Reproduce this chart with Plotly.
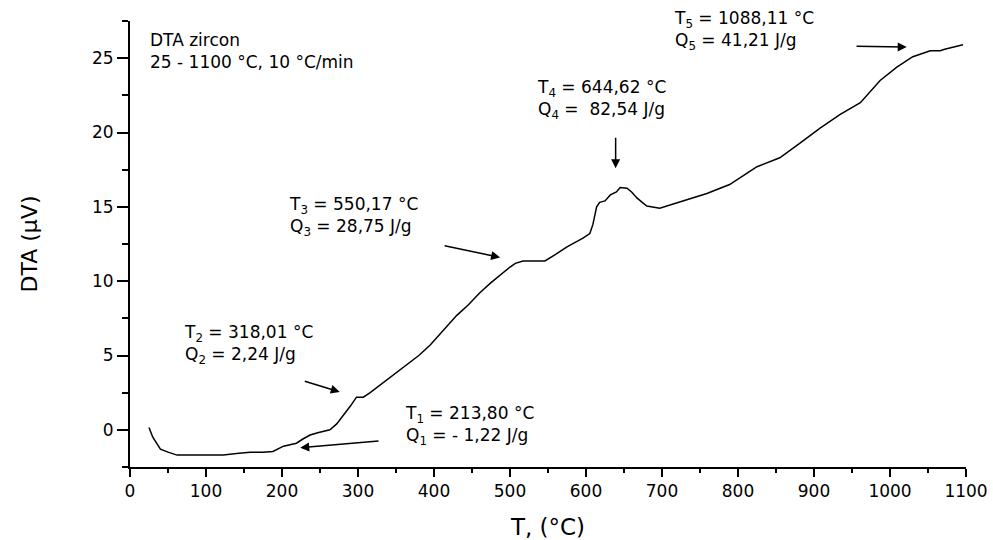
import plotly.graph_objects as go

# DTA curve of zircon
temperature = [25, 30, 35, 40, 50, 62, 80, 101, 123, 140, 158, 175, 188, 202, 210, 219, 228,
               237, 247, 257, 263, 272, 280, 290, 298, 307, 316, 333, 350, 364, 380, 395, 412,
               430, 445, 460, 475, 491, 500, 507, 517, 526, 546, 560, 575, 596, 605, 609, 614,
               618, 625, 632, 640, 645, 654, 660, 667, 674, 680, 697, 710, 728, 759, 789, 803,
               813, 825, 855, 882, 908, 934, 961, 987, 1009, 1030, 1053, 1060, 1066, 1072, 1079,
               1088, 1096]
dta = [0.15, -0.5, -0.9, -1.3, -1.5, -1.7, -1.7, -1.7, -1.7, -1.6, -1.5, -1.5, -1.45, -1.1,
       -1.0, -0.9, -0.6, -0.35, -0.2, -0.05, 0.0, 0.4, 0.9, 1.6, 2.2, 2.2, 2.5, 3.15, 3.8, 4.35,
       5.0, 5.7, 6.7, 7.7, 8.4, 9.2, 9.9, 10.6, 10.95, 11.2, 11.36, 11.35, 11.36, 11.8, 12.3,
       12.9, 13.2, 13.8, 15.0, 15.3, 15.4, 15.8, 16.0, 16.3, 16.25, 16.0, 15.6, 15.3, 15.05,
       14.9, 15.1, 15.4, 15.9, 16.5, 17.0, 17.3, 17.7, 18.3, 19.3, 20.3, 21.2, 22.0, 23.5, 24.4,
       25.1, 25.5, 25.5, 25.5, 25.6, 25.7, 25.8, 25.9]

# Peak labels
peak_labels = [
    "T<sub>1</sub> = 213,80 °C<br>Q<sub>1</sub> = - 1,22 J/g",
    "T<sub>2</sub> = 318,01 °C<br>Q<sub>2</sub> = 2,24 J/g",
    "T<sub>3</sub> = 550,17 °C<br>Q<sub>3</sub> = 28,75 J/g",
    "T<sub>4</sub> = 644,62 °C<br>Q<sub>4</sub> =  82,54 J/g",
    "T<sub>5</sub> = 1088,11 °C<br>Q<sub>5</sub> = 41,21 J/g",
]
label_x = [359, 68, 207, 533, 713]
label_y = [0.27, 5.75, 14.38, 22.2, 26.85]
# arrows: tail (ax, ay) -> head (x, y)
arrow_tail_x = [329, 228, 412, 639, 954]
arrow_tail_y = [-0.74, 3.3, 12.4, 19.75, 25.8]
arrow_head_x = [224, 276, 487, 639, 1022]
arrow_head_y = [-1.2, 2.55, 11.6, 17.6, 25.75]

info_text = "DTA zircon<br>25 - 1100 °C, 10 °C/min"

x_ticks = list(range(0, 1101, 100))
y_ticks = [0, 5, 10, 15, 20, 25]

FONT = "DejaVu Sans"

fig = go.Figure()
fig.add_trace(go.Scatter(x=temperature, y=dta, mode="lines",
                         line=dict(color="black", width=1.5), showlegend=False))

annotations = []
for t, lx, ly in zip(peak_labels, label_x, label_y):
    annotations.append(dict(x=lx, y=ly, xref="x", yref="y", text=t, showarrow=False,
                            xanchor="left", yanchor="middle", align="left",
                            font=dict(family=FONT, size=17, color="black")))
for tx, ty, hx, hy in zip(arrow_tail_x, arrow_tail_y, arrow_head_x, arrow_head_y):
    annotations.append(dict(x=hx, y=hy, ax=tx, ay=ty, xref="x", yref="y", axref="x", ayref="y",
                            text="", showarrow=True, arrowhead=2, arrowsize=1.2,
                            arrowwidth=1.5, arrowcolor="black"))
annotations.append(dict(x=24, y=25.47, xref="x", yref="y", text=info_text, showarrow=False,
                        xanchor="left", yanchor="middle", align="left",
                        font=dict(family=FONT, size=17, color="black")))

fig.update_layout(
    width=993, height=540,
    margin=dict(l=130, r=27, t=21, b=73),
    paper_bgcolor="white", plot_bgcolor="white",
    font=dict(family=FONT, color="black"),
    annotations=annotations,
    xaxis=dict(range=[0, 1100], tickvals=x_ticks, ticks="outside", ticklen=8, tickwidth=2,
               tickcolor="black", showline=True, linecolor="black", linewidth=2,
               showgrid=False, zeroline=False, tickfont=dict(family=FONT, size=17),
               automargin=False,
               minor=dict(dtick=50, tick0=0, ticks="outside", ticklen=4, tickwidth=2,
                          tickcolor="black", showgrid=False),
               title=dict(text="T, (°C)", font=dict(family=FONT, size=23), standoff=19)),
    yaxis=dict(range=[-2.5, 27.5], tickvals=y_ticks, ticks="outside", ticklen=11, tickwidth=2,
               tickcolor="black", showline=True, linecolor="black", linewidth=2,
               showgrid=False, zeroline=False, tickfont=dict(family=FONT, size=17),
               automargin=False,
               minor=dict(dtick=2.5, tick0=0, ticks="outside", ticklen=6, tickwidth=2,
                          tickcolor="black", showgrid=False),
               title=dict(text="DTA (µV)", font=dict(family=FONT, size=22), standoff=48)),
)

fig.write_html("out.html")
